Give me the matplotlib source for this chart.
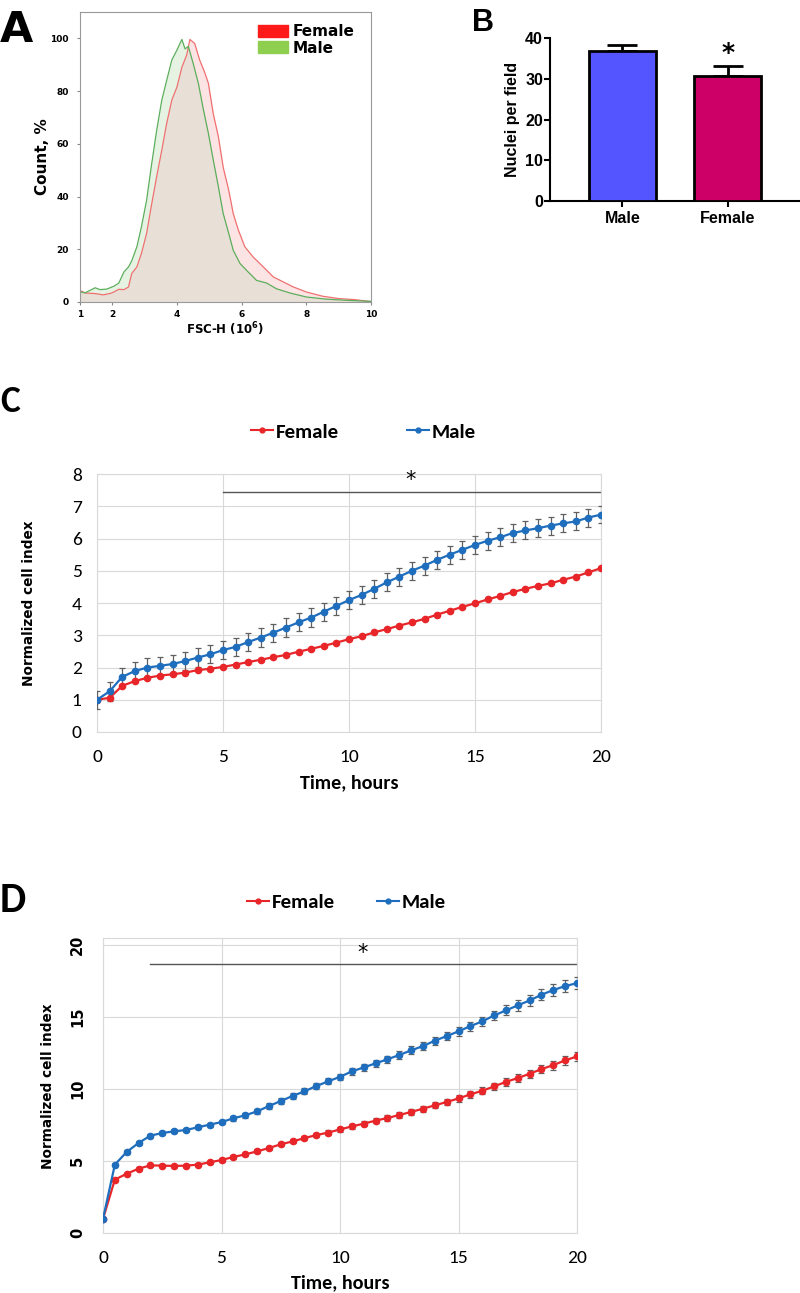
import numpy as np
import matplotlib
matplotlib.use("Agg")
import matplotlib.pyplot as plt
from matplotlib.patches import Patch
from matplotlib.lines import Line2D
from matplotlib import font_manager as fm

# ---------------- data ----------------
# Panel A: flow cytometry histograms (FSC-H, 10^6)
male_fsc = [1.0, 1.16, 1.47, 1.62, 1.83, 2.05, 2.2, 2.36, 2.5, 2.6, 2.76, 2.9, 3.06, 3.2,
            3.37, 3.53, 3.68, 3.84, 4.0, 4.15, 4.25, 4.35, 4.5, 4.66, 4.8, 4.97, 5.12,
            5.28, 5.43, 5.6, 5.74, 5.95, 6.2, 6.46, 6.77, 7.08, 7.5, 8.0, 8.6, 9.3, 9.9, 10.0]
male_count = [3.8, 3.5, 5.4, 4.7, 4.9, 6.0, 7.2, 11.4, 13.3, 15.6, 21.0, 28.5, 38.6, 51.0,
              65.0, 76.6, 84.0, 91.8, 95.6, 99.6, 96.0, 97.0, 90.5, 83.0, 74.0, 64.0, 54.0,
              43.7, 33.5, 26.0, 19.6, 14.6, 11.4, 8.2, 7.2, 5.0, 3.4, 1.9, 1.1, 0.6, 0.3, 0.2]
female_fsc = [1.0, 1.16, 1.47, 1.72, 1.98, 2.2, 2.36, 2.5, 2.6, 2.76, 2.9, 3.06, 3.2, 3.37,
              3.53, 3.68, 3.84, 4.0, 4.15, 4.3, 4.4, 4.55, 4.7, 4.85, 4.97, 5.12, 5.28,
              5.43, 5.6, 5.74, 5.9, 6.1, 6.36, 6.67, 6.98, 7.29, 7.6, 8.0, 8.5, 9.0, 9.5,
              9.9, 10.0]
female_count = [4.4, 3.4, 3.2, 2.7, 3.4, 4.8, 4.7, 5.7, 10.8, 13.3, 18.4, 26.0, 36.0, 47.5,
                57.6, 67.7, 76.6, 81.6, 89.0, 93.7, 99.6, 98.0, 91.8, 87.3, 83.0, 71.5, 62.7,
                51.0, 42.4, 33.5, 27.2, 20.9, 17.0, 13.3, 9.5, 7.6, 5.7, 3.8, 2.2, 1.3, 0.9,
                0.3, 0.2]

# Panel B: nuclei per field
b_groups = ["Male", "Female"]
b_means = [36.7, 30.6]
b_errs = [1.5, 2.5]

# Panels C and D: time course
time_h = np.arange(0, 20.01, 0.5)
c_male = [1.00, 1.26, 1.71, 1.89, 2.00, 2.05, 2.11, 2.20, 2.31, 2.41, 2.54, 2.64, 2.79,
          2.93, 3.08, 3.24, 3.40, 3.55, 3.73, 3.91, 4.09, 4.25, 4.44, 4.64, 4.82, 5.00,
          5.16, 5.34, 5.50, 5.65, 5.80, 5.93, 6.04, 6.17, 6.25, 6.32, 6.40, 6.47, 6.53,
          6.65, 6.74]
c_male_err = [0.28, 0.30, 0.27, 0.28, 0.28, 0.28, 0.28, 0.28, 0.28, 0.28, 0.28, 0.28, 0.28,
              0.28, 0.28, 0.28, 0.28, 0.28, 0.28, 0.28, 0.28, 0.28, 0.28, 0.28, 0.28, 0.28,
              0.28, 0.28, 0.28, 0.28, 0.28, 0.28, 0.28, 0.28, 0.28, 0.28, 0.28, 0.28, 0.28,
              0.28, 0.27]
c_female = [1.00, 1.06, 1.43, 1.58, 1.68, 1.75, 1.79, 1.84, 1.92, 1.96, 2.02, 2.09, 2.17,
            2.24, 2.32, 2.39, 2.49, 2.58, 2.67, 2.77, 2.88, 2.97, 3.09, 3.19, 3.30, 3.40,
            3.51, 3.64, 3.76, 3.88, 3.99, 4.11, 4.22, 4.34, 4.44, 4.53, 4.61, 4.72, 4.82,
            4.95, 5.08]
c_female_err = [0.03] * 41

d_male = [1.00, 4.76, 5.64, 6.26, 6.77, 6.95, 7.07, 7.16, 7.35, 7.53, 7.71, 7.97, 8.18,
          8.45, 8.82, 9.17, 9.52, 9.84, 10.21, 10.53, 10.85, 11.22, 11.50, 11.78, 12.06,
          12.36, 12.68, 12.98, 13.35, 13.67, 14.00, 14.36, 14.69, 15.10, 15.45, 15.80,
          16.14, 16.54, 16.86, 17.14, 17.34]
d_male_err = [0.05, 0.10, 0.12, 0.12, 0.13, 0.13, 0.13, 0.14, 0.14, 0.15, 0.15, 0.16, 0.17,
              0.18, 0.18, 0.19, 0.20, 0.20, 0.21, 0.21, 0.22, 0.23, 0.23, 0.24, 0.25,
              0.26, 0.27, 0.28, 0.29, 0.30, 0.31, 0.32, 0.33, 0.34, 0.35, 0.36,
              0.37, 0.38, 0.39, 0.40, 0.40]
d_female = [1.00, 3.72, 4.13, 4.48, 4.71, 4.69, 4.67, 4.69, 4.76, 4.92, 5.08, 5.29, 5.47,
            5.68, 5.91, 6.17, 6.37, 6.60, 6.81, 6.98, 7.20, 7.41, 7.60, 7.81, 7.99, 8.20,
            8.41, 8.64, 8.87, 9.10, 9.35, 9.63, 9.88, 10.18, 10.50, 10.76, 11.06, 11.38,
            11.66, 11.99, 12.26]
d_female_err = [0.05, 0.08, 0.08, 0.09, 0.09, 0.09, 0.09, 0.10, 0.10, 0.11, 0.11, 0.12, 0.12,
                0.13, 0.13, 0.14, 0.14, 0.15, 0.15, 0.16, 0.16, 0.17, 0.17, 0.18, 0.19,
                0.19, 0.20, 0.21, 0.21, 0.22, 0.23, 0.24, 0.25, 0.26, 0.27, 0.28,
                0.29, 0.30, 0.31, 0.32, 0.33]

# ---------------- fonts ----------------
_available = set(f.name for f in fm.fontManager.ttflist)
_excel_candidates = ["Carlito", "PT Sans Narrow", "Liberation Sans"]
EXCEL_FONT = next(n for n in _excel_candidates if n in _available or n == "Liberation Sans")
EXCEL = [EXCEL_FONT, "DejaVu Sans"]

RED = "#e8262a"
BLUE = "#1f6ebd"
ERRC = "#606060"

fig = plt.figure(figsize=(8.0, 12.93), dpi=100)
H = 1293.0
W = 800.0

def box(l, t, r, b):
    return [l / W, 1 - b / H, (r - l) / W, (b - t) / H]

# ---------------- Panel A ----------------
axA = fig.add_axes(box(80, 12, 371, 302))
xm = np.array(male_fsc)
ym = np.array(male_count)
xf = np.array(female_fsc)
yf = np.array(female_count)
grid = np.linspace(1, 10, 600)
axA.fill_between(xf, 0, yf, color="#fde4e4", lw=0)
axA.fill_between(xm, 0, ym, color="#e6f2e2", lw=0)
axA.fill_between(grid, 0, np.minimum(np.interp(grid, xm, ym), np.interp(grid, xf, yf)),
                 color="#e8dfd6", lw=0)
axA.plot(xf, yf, color="#f07070", lw=0.9)
axA.plot(xm, ym, color="#5cae5c", lw=0.9)
axA.set_xlim(1, 10)
axA.set_ylim(0, 110)
axA.set_xticks([1, 2, 4, 6, 8, 10])
axA.set_yticks([0, 20, 40, 60, 80, 100])
axA.tick_params(labelsize=6.5, length=2, color="#888888")
axA.tick_params(axis="x", pad=4)
axA.tick_params(axis="y", pad=6)
for lab in axA.get_xticklabels() + axA.get_yticklabels():
    lab.set_fontweight("bold")
for s in axA.spines.values():
    s.set_color("#999999")
    s.set_linewidth(0.8)
axA.set_ylabel("Count, %", fontsize=11, fontweight="bold", labelpad=0)
axA.set_xlabel("FSC-H (10$^{\\mathbf{6}}$)", fontsize=8.5, fontweight="bold", labelpad=1)
axA.legend(handles=[Patch(color="#ff1a1a", label="Female"), Patch(color="#8fcf4f", label="Male")],
           loc="upper right", frameon=False, prop={"weight": "bold", "size": 11},
           handlelength=2.0, handleheight=0.8, borderaxespad=0.2, labelspacing=0.1,
           handletextpad=0.3, bbox_to_anchor=(0.975, 0.99))
fig.text(0.0, 1 - 42 / H, "A", fontsize=31, fontweight="bold", ha="left", va="baseline")

# ---------------- Panel B ----------------
axB = fig.add_axes(box(550, 38, 800, 201))
pos = np.arange(len(b_groups))
axB.bar(pos, b_means, width=0.635, color=["#5555ff", "#cc0066"], edgecolor="black",
        linewidth=2, zorder=3)
for p, v, e in zip(pos, b_means, b_errs):
    axB.errorbar(p, v, yerr=[[0], [e]], color="black", capsize=11, capthick=2,
                 elinewidth=2, zorder=2)
axB.text(pos[1], b_means[1] + b_errs[1] + 0.2, "*", ha="center", va="bottom",
         fontsize=18, fontweight="bold")
axB.set_xlim(-0.687, 1.683)
axB.set_ylim(0, 40)
axB.set_yticks([0, 10, 20, 30, 40])
axB.set_xticks(pos)
axB.set_xticklabels(b_groups)
axB.tick_params(labelsize=11.5, width=1.5, length=4)
axB.tick_params(axis="y", pad=1)
for lab in axB.get_xticklabels() + axB.get_yticklabels():
    lab.set_fontweight("bold")
    lab.set_family("Liberation Sans")
axB.spines["top"].set_visible(False)
axB.spines["right"].set_visible(False)
axB.spines["left"].set_linewidth(1.5)
axB.spines["bottom"].set_linewidth(1.5)
axB.set_ylabel("Nuclei per field", fontsize=11.5, fontweight="bold", family="Liberation Sans",
               labelpad=4)
fig.text(472 / W, 1 - 31 / H, "B", fontsize=22, fontweight="bold", ha="left", va="baseline",
         family="Liberation Sans")

# ---------------- helper for C / D ----------------
def style_time_axes(ax):
    ax.grid(True, color="#d9d9d9", lw=0.8)
    ax.set_axisbelow(True)
    for s in ax.spines.values():
        s.set_color("#d9d9d9")
        s.set_linewidth(0.8)
    ax.tick_params(length=0, labelsize=14)
    for lab in ax.get_xticklabels() + ax.get_yticklabels():
        lab.set_family(EXCEL)
    ax.set_xlim(0, 20)
    ax.set_xticks([0, 5, 10, 15, 20])

def plot_series(ax, y, e, color):
    ax.errorbar(time_h, y, yerr=e, color=color, ecolor=ERRC, elinewidth=0.9, capsize=2.5,
                capthick=0.9, lw=1.6, marker="o", ms=4.5, zorder=3)

legend_props = {"family": EXCEL, "weight": "bold", "size": 15}
h_f = Line2D([], [], color=RED, marker="o", ms=3.5, lw=1.5, label="Female")
h_m = Line2D([], [], color=BLUE, marker="o", ms=3.5, lw=1.5, label="Male")

def place_legend(handle, x_px, y_px):
    fig.legend(handles=[handle], loc="center left", bbox_to_anchor=(x_px / W, 1 - y_px / H),
               frameon=False, prop=legend_props, handlelength=1.05, handletextpad=0.15,
               borderpad=0, borderaxespad=0)

# ---------------- Panel C ----------------
axC = fig.add_axes(box(97, 474, 601, 732))
plot_series(axC, c_female, c_female_err, RED)
plot_series(axC, c_male, c_male_err, BLUE)
axC.set_ylim(0, 8)
axC.set_yticks(range(0, 9))
style_time_axes(axC)
axC.tick_params(axis="x", pad=12)
axC.tick_params(axis="y", pad=11)
axC.plot([5, 20], [7.43, 7.43], color="#555555", lw=1.0)
axC.text(12.45, 7.5, "*", ha="center", va="bottom", fontsize=15)
axC.set_xlabel("Time, hours", fontsize=14.5, fontweight="bold", family=EXCEL, labelpad=7)
axC.set_ylabel("Normalized cell index", fontsize=9.8, fontweight="bold", labelpad=26)
place_legend(h_f, 251, 432)
place_legend(h_m, 407, 432)
fig.text(0.0, 1 - 412 / H, "C", fontsize=27, fontweight="bold", ha="left", va="baseline",
         family=EXCEL)

# ---------------- Panel D ----------------
axD = fig.add_axes(box(103, 938.3, 577, 1233.3))
plot_series(axD, d_female, d_female_err, RED)
plot_series(axD, d_male, d_male_err, BLUE)
axD.set_ylim(0, 20.45)
axD.set_yticks([0, 5, 10, 15, 20])
style_time_axes(axD)
for lab in axD.get_yticklabels():
    lab.set_rotation(90)
    lab.set_va("center")
    lab.set_family("DejaVu Sans")
    lab.set_fontweight("bold")
    lab.set_fontsize(10.5)
axD.tick_params(axis="x", pad=12)
axD.tick_params(axis="y", pad=13)
axD.plot([2, 20], [18.66, 18.66], color="#555555", lw=1.0)
axD.text(10.95, 18.75, "*", ha="center", va="bottom", fontsize=15)
axD.set_xlabel("Time, hours", fontsize=14.5, fontweight="bold", family=EXCEL, labelpad=6)
axD.set_ylabel("Normalized cell index", fontsize=9.8, fontweight="bold", labelpad=11)
place_legend(h_f, 247, 902)
place_legend(h_m, 377, 902)
fig.text(0.0, 1 - 912 / H, "D", fontsize=30, fontweight="bold", ha="left", va="baseline",
         family=EXCEL)

fig.savefig("out.png", dpi=100, facecolor="white")
